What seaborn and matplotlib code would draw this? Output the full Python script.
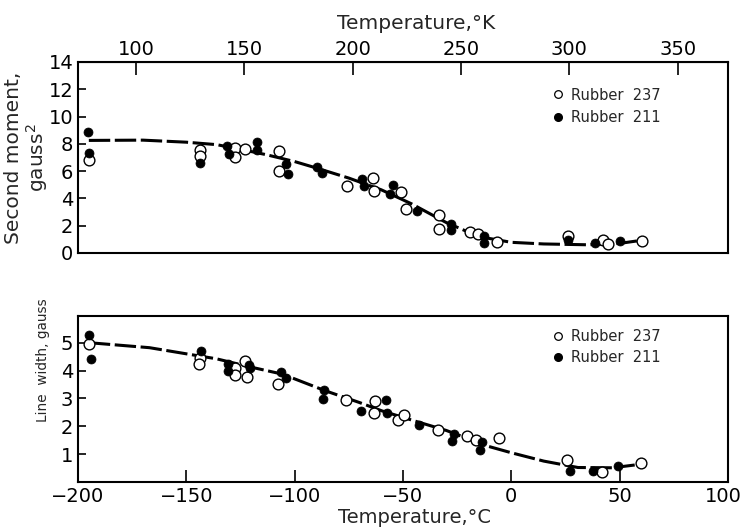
import numpy as np
import pandas as pd
import matplotlib
matplotlib.use("Agg")
import matplotlib.pyplot as plt
import matplotlib.transforms as mtransforms
import seaborn as sns
from matplotlib.lines import Line2D

# ---- Top panel: second moment (gauss^2) ----
sm237_t = [-194.9, -143.6, -143.6, -127.7, -127.5, -122.8, -107.4, -107.2, -75.7, -63.8, -63.4,
           -50.7, -48.6, -33.4, -33.4, -18.9, -15.5, -6.6, 26.2, 42.5, 44.6, 60.2]
sm237_v = [6.84, 7.57, 7.13, 7.70, 7.00, 7.62, 7.45, 6.03, 4.88, 5.49, 4.51,
           4.44, 3.21, 2.79, 1.76, 1.57, 1.37, 0.81, 1.25, 0.93, 0.64, 0.91]
sm211_t = [-195.2, -194.9, -143.6, -131.2, -130.4, -117.4, -117.4, -103.9, -103.1, -89.5, -87.5,
           -68.8, -67.9, -54.7, -56.0, -43.7, -28.0, -27.7, -12.4, -12.4, 26.2, 38.8, 50.3]
sm211_v = [8.87, 7.33, 6.60, 7.82, 7.25, 8.14, 7.57, 6.54, 5.76, 6.27, 5.83,
           5.42, 4.88, 4.95, 4.31, 3.06, 2.10, 1.69, 1.25, 0.71, 0.96, 0.76, 0.91]
sm_curve_t = [-195, -170, -150, -136, -125, -113, -100, -90, -75, -60, -46, -30, -15, 0, 15, 35, 50, 58]
sm_curve_v = [8.25, 8.27, 8.12, 7.94, 7.6, 7.2, 6.7, 6.23, 5.49, 4.63, 3.6, 2.23, 1.2, 0.78, 0.66, 0.6, 0.7, 0.88]

# ---- Bottom panel: line width (gauss) ----
lw237_t = [-194.9, -143.6, -144.1, -127.7, -127.5, -122.9, -122.0, -107.6, -76.5, -63.0, -63.3,
           -52.3, -49.5, -33.6, -20.4, -16.4, -5.7, 25.7, 41.8, 59.8]
lw237_v = [4.96, 4.44, 4.23, 4.08, 3.84, 4.34, 3.78, 3.50, 2.93, 2.90, 2.47,
           2.24, 2.42, 1.87, 1.64, 1.51, 1.58, 0.78, 0.36, 0.67]
lw211_t = [-195.1, -194.2, -143.4, -130.9, -130.6, -121.2, -120.5, -106.2, -103.8, -86.4, -87.0,
           -69.4, -57.8, -57.2, -42.8, -26.5, -27.4, -13.6, -14.3, 27.0, 37.6, 49.5]
lw211_v = [5.26, 4.40, 4.70, 4.24, 3.97, 4.21, 4.09, 3.93, 3.75, 3.31, 2.97,
           2.53, 2.95, 2.49, 2.03, 1.74, 1.47, 1.44, 1.15, 0.38, 0.41, 0.58]
lw_curve_t = [-195, -167, -150, -136, -120, -105.6, -85.7, -70, -59.6, -45, -30, -10.6, 0, 15, 30.8, 46.7, 57]
lw_curve_v = [5.0, 4.82, 4.6, 4.42, 4.12, 3.87, 3.27, 2.85, 2.55, 2.2, 1.85, 1.28, 1.05, 0.75, 0.52, 0.51, 0.61]

legend_labels = ["Rubber  237", "Rubber  211"]

sns.set_style("ticks")
plt.rcParams['font.family'] = ['DejaVu Sans']

fig = plt.figure(figsize=(7.45, 5.27), dpi=100)
ax1 = fig.add_axes([0.1047, 0.52, 0.8723, 0.3624])
ax2 = fig.add_axes([0.1047, 0.0854, 0.8723, 0.3146])

def panel(ax, t237, v237, t211, v211, ct, cv, leg_y, spacing):
    sns.lineplot(x=ct, y=cv, ax=ax, color="black", lw=2.2, linestyle=(0, (7, 1.5)),
                 estimator=None, sort=False)
    sns.scatterplot(x=t237, y=v237, ax=ax, marker="o", s=60, facecolor="white",
                    edgecolor="black", linewidth=1.0, zorder=3)
    sns.scatterplot(x=t211, y=v211, ax=ax, marker="o", s=42, color="black",
                    edgecolor="black", linewidth=0.5, zorder=3)
    ax.set_xlim(-200, 100)
    for s in ax.spines.values():
        s.set_visible(True)
        s.set_linewidth(1.5)
        s.set_color("black")
    ax.tick_params(direction="in", length=6, width=1.2, labelsize=14, colors="black")
    handles = [Line2D([], [], marker="o", ls="", mfc="white", mec="black", ms=5.5, mew=0.9),
               Line2D([], [], marker="o", ls="", mfc="black", mec="black", ms=5.5)]
    ax.legend(handles, legend_labels, loc="upper left",
              bbox_to_anchor=(0.707, leg_y), frameon=False, fontsize=10.5,
              handletextpad=0.4, handlelength=1.0, labelspacing=spacing)

panel(ax1, sm237_t, sm237_v, sm211_t, sm211_v, sm_curve_t, sm_curve_v, 0.935, 0.5)
panel(ax2, lw237_t, lw237_v, lw211_t, lw211_v, lw_curve_t, lw_curve_v, 1.0, 0.38)

ax1.set_ylim(0, 14)
ax1.set_yticks([0, 2, 4, 6, 8, 10, 12, 14])
ax1.set_xticks([])
ax1.set_ylabel("Second moment,\ngauss$^2$", fontsize=14.5, multialignment="center",
               linespacing=1.05)
ax1.yaxis.set_label_coords(-0.043, 0.5)
ax1.set_xlabel("")
sec = ax1.secondary_xaxis("top", functions=(lambda c: c + 273.15, lambda k: k - 273.15))
sec.set_xticks([100, 150, 200, 250, 300, 350])
sec.tick_params(direction="in", length=9, width=1.2, labelsize=14, colors="black", pad=2)
sec.set_xlabel("Temperature,°K", fontsize=14.5, labelpad=8)
sec.xaxis.label.set_x(0.52)

ax2.set_ylim(0, 5.95)
ax2.set_yticks([1, 2, 3, 4, 5])
ax2.set_xticks([-200, -150, -100, -50, 0, 50, 100])
ax2.tick_params(axis="x", length=9, labelsize=14)
ax2.set_ylabel("Line  width, gauss", fontsize=9.8)
ax2.yaxis.set_label_coords(-0.043, 0.735)
ax2.set_xlabel("Temperature,°C", fontsize=14)
ax2.xaxis.set_label_coords(0.518, -0.155)

fig.canvas.draw()
last = ax2.get_xticklabels()[-1]
last.set_transform(last.get_transform() +
                   mtransforms.ScaledTranslation(-5 / 100, 0, fig.dpi_scale_trans))

fig.savefig("out.png", dpi=100)
